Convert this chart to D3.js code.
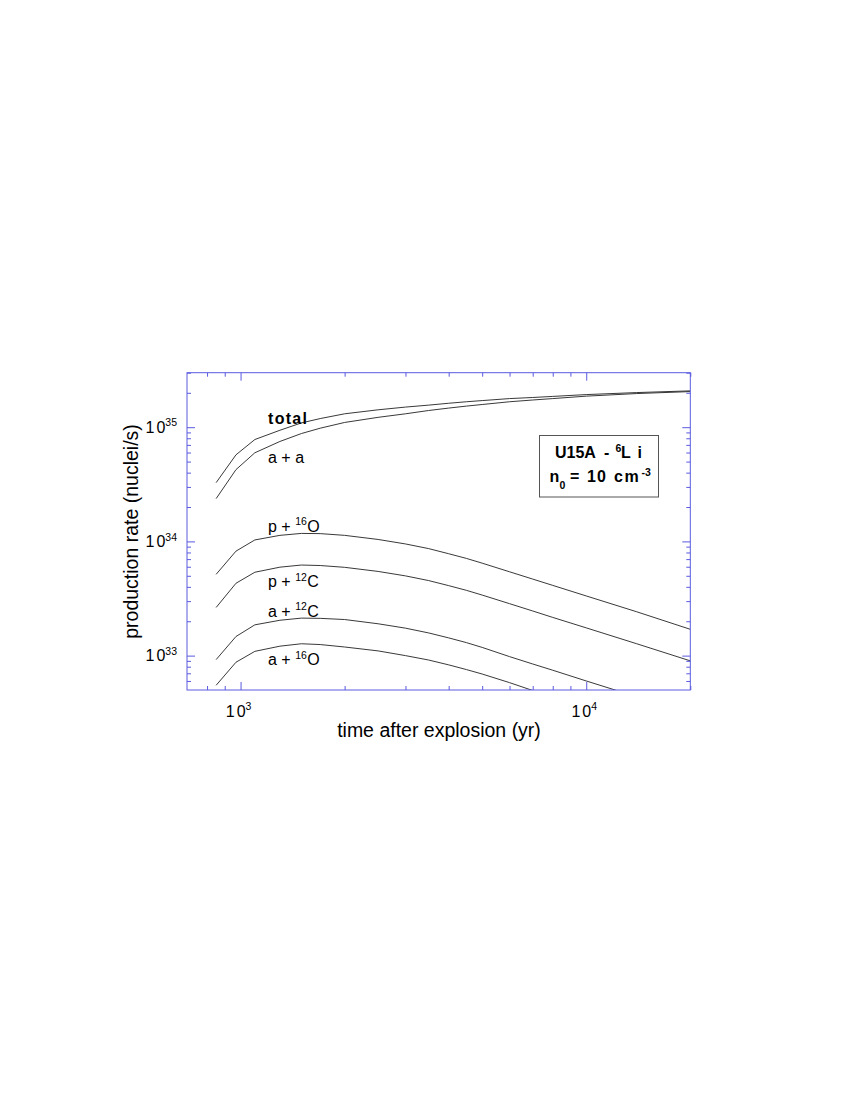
<!DOCTYPE html>
<html><head><meta charset="utf-8">
<script src="https://cdn.jsdelivr.net/npm/d3@7"></script>
<style>
body{margin:0;background:#fff;}
text{font-family:"Liberation Sans",Arial,Helvetica,sans-serif;fill:#000;}
</style></head>
<body><svg id="c" width="850" height="1100"></svg>
<script>
const times = [850, 970, 1100, 1300, 1500, 1700, 2000, 2500, 3000, 3500, 4000, 4500, 5000, 6000, 7000, 8000, 10000, 14000, 20000];
const total = [3.27e34, 5.73e34, 7.8e34, 9.4e34, 1.09e35, 1.19e35, 1.31e35, 1.42e35, 1.5e35, 1.56e35, 1.62e35, 1.67e35, 1.71e35, 1.78e35, 1.82e35, 1.86e35, 1.93e35, 2.01e35, 2.08e35];
const alphaAlpha = [2.37e34, 4.25e34, 5.97e34, 7.5e34, 8.8e34, 9.8e34, 1.10e35, 1.22e35, 1.31e35, 1.40e35, 1.47e35, 1.53e35, 1.58e35, 1.67e35, 1.73e35, 1.78e35, 1.87e35, 1.97e35, 2.05e35];
const pO16 = [5.15e33, 8.22e33, 1.03e34, 1.13e34, 1.175e34, 1.17e34, 1.13e34, 1.04e34, 9.5e33, 8.65e33, 7.8e33, 7.1e33, 6.45e33, 5.42e33, 4.68e33, 4.12e33, 3.33e33, 2.42e33, 1.70e33];
const pC12 = [2.64e33, 4.3e33, 5.37e33, 5.95e33, 6.21e33, 6.15e33, 5.93e33, 5.46e33, 4.99e33, 4.54e33, 4.1e33, 3.73e33, 3.39e33, 2.85e33, 2.46e33, 2.16e33, 1.75e33, 1.27e33, 9.0e32];
const aC12 = [9.23e32, 1.47e33, 1.86e33, 2.04e33, 2.13e33, 2.12e33, 2.07e33, 1.9e33, 1.74e33, 1.58e33, 1.43e33, 1.3e33, 1.18e33, 9.8e32, 8.45e32, 7.45e32, 6.0e32, 4.36e32, 3.1e32];
const aO16 = [5.5e32, 8.75e32, 1.09e33, 1.21e33, 1.27e33, 1.25e33, 1.19e33, 1.1e33, 1.0e33, 9.15e32, 8.3e32, 7.55e32, 6.9e32, 5.8e32, 4.95e32, 4.35e32, 3.5e32, 2.5e32, 1.75e32];

const seriesNames = ["total", "a + a", "p + 16O", "p + 12C", "a + 12C", "a + 16O"];
const seriesValues = [total, alphaAlpha, pO16, pC12, aC12, aO16];

const xMajor = [1000, 10000];
const xMajorExp = ["3", "4"];
const xMinor = [800, 900, 2000, 3000, 4000, 5000, 6000, 7000, 8000, 9000, 20000];
const yMajor = [1e33, 1e34, 1e35];
const yMajorExp = ["33", "34", "35"];
const yMinor = [6e32, 7e32, 8e32, 9e32, 2e33, 3e33, 4e33, 5e33, 6e33, 7e33, 8e33, 9e33,
                2e34, 3e34, 4e34, 5e34, 6e34, 7e34, 8e34, 9e34, 2e35, 3e35];

const L = 187, R = 690.3, T = 372.7, B = 690;
const x = d3.scaleLog().domain([700, 20000]).range([L, R]);
const y = d3.scaleLog().domain([5e32, 3e35]).range([B, T]);
const blue = "#5a5ae0";

const svg = d3.select("#c");
svg.append("defs").append("clipPath").attr("id", "clip")
  .append("rect").attr("x", L).attr("y", T).attr("width", R - L).attr("height", B - T);

// curves
const line = d3.line().x(d => x(d[0])).y(d => y(d[1]));
const g = svg.append("g").attr("clip-path", "url(#clip)");
seriesValues.forEach(vals => {
  g.append("path").datum(times.map((t, i) => [t, vals[i]]))
    .attr("d", line).attr("fill", "none").attr("stroke", "#222").attr("stroke-width", 0.9);
});

// frame
svg.append("rect").attr("x", L).attr("y", T).attr("width", R - L).attr("height", B - T)
  .attr("fill", "none").attr("stroke", blue).attr("stroke-width", 1);

function axes(ticks, len) {
  svg.append("g").attr("transform", `translate(0,${B})`)
    .call(d3.axisBottom(x).tickValues(ticks).tickSize(-len).tickFormat(""));
  svg.append("g").attr("transform", `translate(0,${T})`)
    .call(d3.axisTop(x).tickValues(ticks).tickSize(-len).tickFormat(""));
}
function yaxes(ticks, len) {
  svg.append("g").attr("transform", `translate(${L},0)`)
    .call(d3.axisLeft(y).tickValues(ticks).tickSize(-len).tickFormat(""));
  svg.append("g").attr("transform", `translate(${R},0)`)
    .call(d3.axisRight(y).tickValues(ticks).tickSize(-len).tickFormat(""));
}
axes(xMinor, 4); axes(xMajor, 8);
yaxes(yMinor, 4); yaxes(yMajor, 8);
svg.selectAll(".domain").remove();
svg.selectAll(".tick line").attr("stroke", blue).attr("stroke-width", 1);

// tick labels
xMajor.forEach((v, i) => {
  const t = svg.append("text").attr("x", x(v) - 2).attr("y", 716.5)
    .attr("text-anchor", "middle").style("font-size", "16px");
  t.append("tspan").text("1").attr("letter-spacing", "2px");
  t.append("tspan").text("0");
  t.append("tspan").text(xMajorExp[i]).style("font-size", "10.5px").attr("dy", -6.5);
});
yMajor.forEach((v, i) => {
  const t = svg.append("text").attr("x", 177).attr("y", y(v) + 5.7)
    .attr("text-anchor", "end").style("font-size", "16px");
  t.append("tspan").text("1").attr("letter-spacing", "2px");
  t.append("tspan").text("0");
  t.append("tspan").text(yMajorExp[i]).style("font-size", "10.5px").attr("dy", -6.5);
});

// axis titles
svg.append("text").attr("x", 439).attr("y", 737).attr("text-anchor", "middle")
  .style("font-size", "19.5px").text("time after explosion (yr)");
svg.append("text").attr("transform", "translate(138,531.5) rotate(-90)")
  .attr("text-anchor", "middle").style("font-size", "19.5px").text("production rate (nuclei/s)");

// curve labels
const labelPos = [[268, 424.3], [268, 463.3], [268, 531.7], [268, 587], [268, 616.5], [268, 665]];
function label(name, px, py, bold) {
  const m = name.match(/^(.*?)(\d+)([A-Z])$/);
  const t = svg.append("text").attr("x", px).attr("y", py).style("font-size", "16px");
  if (bold) { t.style("font-weight", "bold").attr("letter-spacing", "1.3px").text(name); return; }
  if (!m) { t.text(name); return; }
  t.append("tspan").text(m[1]);
  t.append("tspan").text(m[2]).style("font-size", "10.5px").attr("dy", -6.5);
  t.append("tspan").text(m[3]).attr("dy", 6.5).attr("dx", 0.5);
}
seriesNames.forEach((n, i) => label(n, labelPos[i][0], labelPos[i][1], i === 0));

// info box
svg.append("rect").attr("x", 539.5).attr("y", 435.5).attr("width", 119).attr("height", 61.5)
  .attr("fill", "#fff").attr("stroke", "#555").attr("stroke-width", 1);
function piece(px, py, s, size, ls) {
  const t = svg.append("text").attr("x", px).attr("y", py).style("font-size", size + "px")
    .style("font-weight", "bold").text(s);
  if (ls) t.attr("letter-spacing", ls + "px");
}
piece(555, 458, "U15A", 16);
piece(604, 458, "-", 16);
piece(615.5, 451.5, "6", 10.5);
piece(621, 458, "L", 16);
piece(637.5, 458, "i", 16);
piece(549.5, 482, "n", 16);
piece(559.5, 488.5, "0", 10.5);
piece(570, 482, "=", 16);
piece(587, 482, "10", 16, 1);
piece(614, 482, "cm", 16, 1.5);
piece(641.5, 475.5, "-3", 10.5);
</script></body></html>
